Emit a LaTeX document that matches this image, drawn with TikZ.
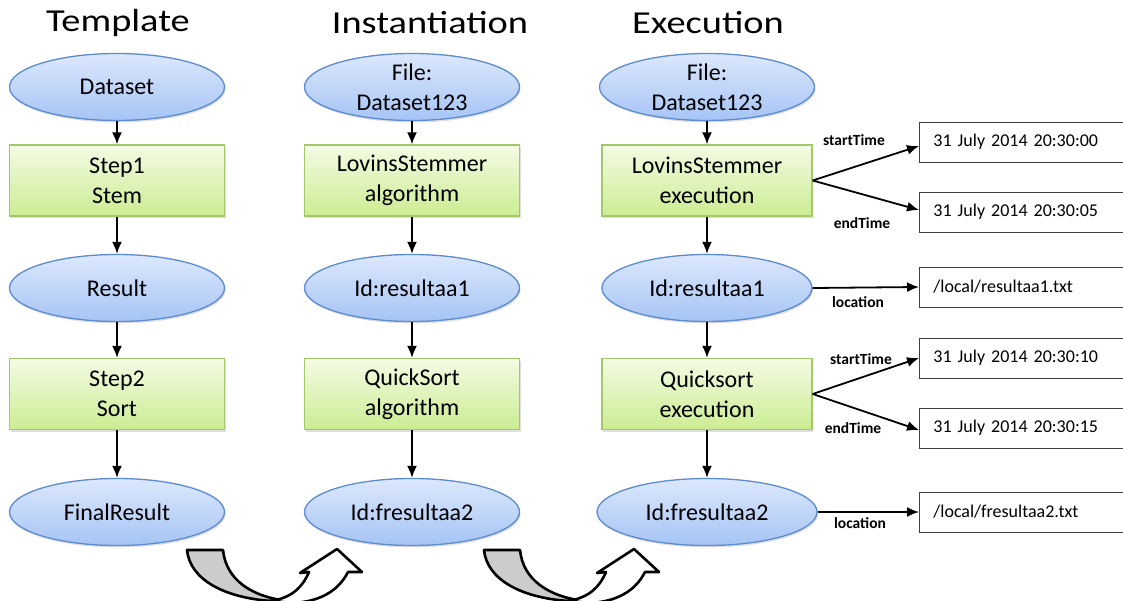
\documentclass[tikz,border=0pt]{standalone}
\usepackage{fontspec}
\setmainfont{Carlito}
\usetikzlibrary{shapes.geometric,arrows.meta,shadows}
\definecolor{ellborder}{HTML}{5B8BD0}
\definecolor{elltop}{HTML}{DCE8FC}
\definecolor{ellbot}{HTML}{A6C4F5}
\definecolor{recborder}{HTML}{A3C86A}
\definecolor{rectop}{HTML}{F4FBE4}
\definecolor{recbot}{HTML}{CBED92}
\tikzset{
  ell/.style={ellipse, draw=ellborder, line width=1.3pt, top color=elltop, bottom color=ellbot,
    minimum width=215pt, minimum height=67pt, inner sep=0pt, align=center,
    font=\fontsize{24}{30}\selectfont,
    drop shadow={shadow xshift=1pt, shadow yshift=-2pt, opacity=0.25}},
  stepbox/.style={rectangle, draw=recborder, line width=1.3pt, top color=rectop, bottom color=recbot,
    minimum width=215pt, minimum height=71pt, inner sep=0pt, align=center,
    font=\fontsize{24}{30}\selectfont,
    drop shadow={shadow xshift=1pt, shadow yshift=-2pt, opacity=0.25}},
  valbox/.style={rectangle, draw=black!75, line width=0.9pt, fill=white, minimum height=40pt,
    text width=190pt, inner xsep=14pt, align=left, anchor=west,
    font=\fontsize{18}{22}\selectfont},
  ttl/.style={font=\fontsize{32}{38}\selectfont, xscale=1.2},
  lbl/.style={font=\bfseries\fontsize{15.5}{18}\selectfont, inner sep=0pt},
  arr/.style={-{Latex[length=12pt,width=10pt]}, line width=1.8pt},
  ua/.style={line width=2.6pt, line join=round}
}
\begin{document}
\begin{tikzpicture}[x=1pt,y=-1pt]
\useasboundingbox (0,0) rectangle (1123,601);
% titles
\node[ttl] (t1) at (118,23) {Template};
\node[ttl] (t2) at (430,23) {Instantiation};
\node[ttl] (t3) at (708,23) {Execution};
% column 1
\node[ell] (a1) at (117,87) {Dataset};
\node[stepbox] (a2) at (117,180.5) {Step1\\Stem};
\node[ell] (a3) at (117,288) {Result};
\node[stepbox] (a4) at (117,394) {Step2\\Sort};
\node[ell] (a5) at (117,512) {FinalResult};
% column 2
\node[ell] (b1) at (412,87) {File:\\Dataset123};
\node[stepbox] (b2) at (412,180.5) {LovinsStemmer\\algorithm};
\node[ell] (b3) at (412,288) {Id:resultaa1};
\node[stepbox] (b4) at (412,394) {QuickSort\\algorithm};
\node[ell] (b5) at (412,512) {Id:fresultaa2};
% column 3
\node[ell] (c1) at (707,87) {File:\\Dataset123};
\node[stepbox, minimum width=210pt] (c2) at (707,180.5) {LovinsStemmer\\execution};
\node[ell, minimum width=210pt] (c3) at (707,288) {Id:resultaa1};
\node[stepbox, minimum width=210pt] (c4) at (707,394) {Quicksort\\execution};
\node[ell, minimum width=220pt] (c5) at (707,512) {Id:fresultaa2};
% value boxes
\node[valbox] (v1) at (919,142) {31 July 2014 20:30:00};
\node[valbox] (v2) at (919,212) {31 July 2014 20:30:05};
\node[valbox] (v3) at (919,287) {/local/resultaa1.txt};
\node[valbox] (v4) at (919,358) {31 July 2014 20:30:10};
\node[valbox] (v5) at (919,428) {31 July 2014 20:30:15};
\node[valbox] (v6) at (919,512) {/local/fresultaa2.txt};
% vertical arrows
\foreach \c in {a,b,c}{
  \draw[arr] (\c1) -- (\c2);
  \draw[arr] (\c2) -- (\c3);
  \draw[arr] (\c3) -- (\c4);
  \draw[arr] (\c4) -- (\c5);
}
% property arrows
\draw[arr] (c2.east) -- ([yshift=-4pt]v1.west);
\draw[arr] (c2.east) -- ([yshift=2pt]v2.west);
\draw[arr] (c3.east) -- (v3.west);
\draw[arr] (c4.east) -- (v4.west);
\draw[arr] (c4.east) -- ([yshift=-2pt]v5.west);
\draw[arr] (c5.east) -- (v6.west);
% labels
\node[lbl] (l1) at (854,140) {startTime};
\node[lbl] (l2) at (862,223) {endTime};
\node[lbl] (l3) at (858,302) {location};
\node[lbl] (l4) at (861,359) {startTime};
\node[lbl] (l5) at (853,428) {endTime};
\node[lbl] (l6) at (860,523) {location};
% curved up arrows
\foreach \dx in {0,297}{
\begin{scope}[xshift=\dx pt]
  \draw[ua, fill=black!20] (187,550) -- (223,550)
     .. controls (226,580) and (252,597) .. (288,601)
     -- (272,601)
     .. controls (225,598) and (190,580) .. (187,550) -- cycle;
  \draw[ua, fill=white] (272,601)
     .. controls (292,597) and (302,588) .. (309,572)
     -- (300,573) -- (337,549) -- (362,572) -- (348,572)
     .. controls (338,592) and (318,602) .. (292,603)
     -- cycle;
\end{scope}
}
\end{tikzpicture}
\end{document}
